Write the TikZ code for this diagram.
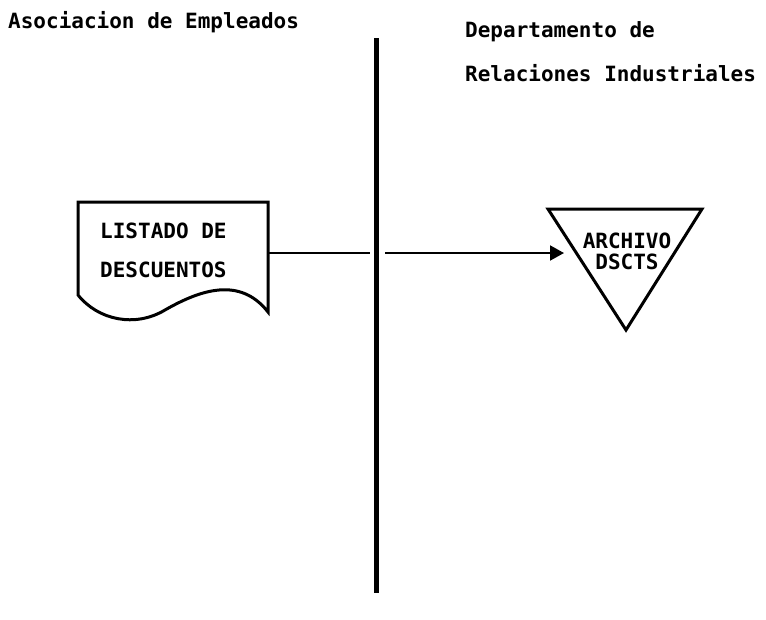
\documentclass[tikz,border=0pt]{standalone}
\usepackage{fontspec}
\newfontfamily\dotfont{DejaVu Sans Mono}[BoldFont={DejaVu Sans Mono Bold}]
\usetikzlibrary{arrows.meta}
\begin{document}
\begin{tikzpicture}[x=1pt,y=-1pt,
  lbl/.style={font=\dotfont\bfseries\fontsize{21}{22}\selectfont, inner sep=0pt, anchor=west},
  shapeline/.style={line width=3pt, line join=miter},
  conn/.style={line width=2pt}]
\useasboundingbox (0,0) rectangle (766,619);
% headers
\node[lbl] (h1) at (8,22) {Asociacion de Empleados};
\node[lbl] (h2) at (465,32) {Departamento de};
\node[lbl] (h3) at (465,73) {Relaciones Industriales};
% swimlane divider
\coordinate (vtop) at (376,38);
\coordinate (vbot) at (376,593);
\draw[line width=5pt] (vtop) -- (vbot);
% document shape
\draw[shapeline] (78,202) -- (268,202) -- (268,312)
  .. controls (240,276) and (200,290) .. (165,310)
  .. controls (135,328) and (98,320) .. (78,295) -- cycle;
\node[lbl] (t1) at (100,231) {LISTADO DE};
\node[lbl] (t2) at (100,270) {DESCUENTOS};
\node[inner sep=0pt, minimum width=190pt, minimum height=110pt] (doc) at (173,253) {};
% file triangle
\draw[shapeline] (548,209) -- (702,209) -- (626,330) -- cycle;
\node[lbl, anchor=center] (a1) at (627,241) {ARCHIVO};
\node[lbl, anchor=center] (a2) at (627,262) {DSCTS};
\coordinate (tri) at (564,253);
% connectors
\coordinate (gapL) at (370,253);
\coordinate (gapR) at (385,253);
\draw[conn] (doc.east) -- (gapL);
\draw[conn, -{Triangle[length=14pt,width=15pt]}] (gapR) -- (tri);
\end{tikzpicture}
\end{document}
